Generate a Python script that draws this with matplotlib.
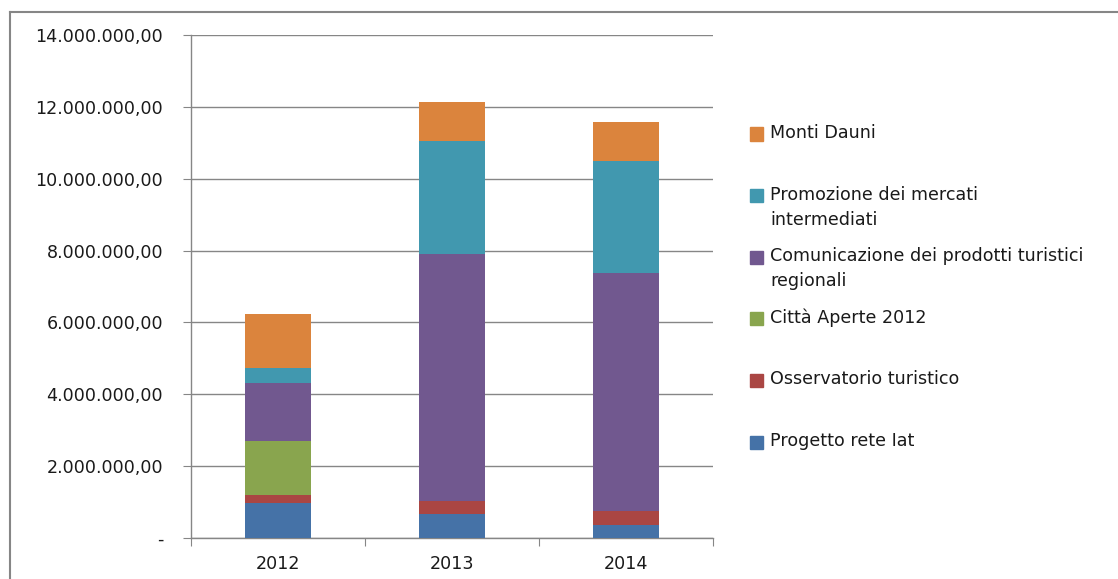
import numpy as np
import matplotlib.pyplot as plt
from matplotlib.ticker import FuncFormatter
from matplotlib.patches import Rectangle
from matplotlib.lines import Line2D

# data (euro)
years = ['2012', '2013', '2014']
series = ['Progetto rete Iat', 'Osservatorio turistico', 'Città Aperte 2012',
          'Comunicazione dei prodotti turistici\nregionali',
          'Promozione dei mercati\nintermediati', 'Monti Dauni']
progetto_iat = [980000, 660000, 350000]
osservatorio = [230000, 380000, 390000]
citta_aperte = [1490000, 0, 0]
comunicazione = [1610000, 6860000, 6640000]
promozione = [420000, 3140000, 3110000]
monti_dauni = [1500000, 1090000, 1090000]
colors = ['#4572A7', '#AA4643', '#89A54E', '#71588F', '#4198AF', '#DB843D']

values = [progetto_iat, osservatorio, citta_aperte, comunicazione, promozione, monti_dauni]

plt.rcParams['font.family'] = 'DejaVu Sans'
W, H = 1118, 579
fs = 12.6
fig = plt.figure(figsize=(W / 100, H / 100), dpi=100)
ax = fig.add_axes([191 / W, (H - 538) / H, (713 - 191) / W, (538 - 35) / H])

x = np.arange(len(years))
bottom = np.zeros(len(years))
for vals, col, name in zip(values, colors, series):
    ax.bar(x, vals, width=0.385, bottom=bottom, color=col, label=name, zorder=3)
    bottom += np.array(vals)

ax.set_ylim(0, 14000000)
ax.set_xlim(-0.5, 2.5)
ax.set_yticks(np.arange(0, 14000001, 2000000))


def it_fmt(v, pos):
    if v == 0:
        return '-'
    s = f'{v:,.2f}'
    return s.replace(',', 'X').replace('.', ',').replace('X', '.')


ax.yaxis.set_major_formatter(FuncFormatter(it_fmt))
ax.grid(axis='y', color='#868686', linewidth=1.0, zorder=0)
ax.tick_params(axis='y', length=6, color='#868686', pad=14, labelsize=fs, labelcolor='#1a1a1a')

ax.set_xticks([-0.5, 0.5, 1.5, 2.5])
ax.set_xticklabels([])
ax.set_xticks(x, minor=True)
ax.set_xticklabels(years, minor=True)
ax.tick_params(axis='x', which='major', length=6, color='#868686')
ax.tick_params(axis='x', which='minor', length=0, pad=12, labelsize=fs, labelcolor='#1a1a1a')

for s in ['top', 'right']:
    ax.spines[s].set_visible(False)
for s in ['left', 'bottom']:
    ax.spines[s].set_color('#868686')
    ax.spines[s].set_linewidth(1.0)

# legend, drawn top to bottom in reverse stacking order
y0 = 134
step = 61.6
for i, (name, col) in enumerate(zip(series[::-1], colors[::-1])):
    yc = y0 + i * step
    fig.patches.append(Rectangle((750 / W, 1 - (yc + 6.5) / H), 13 / W, 13 / H,
                                 transform=fig.transFigure, color=col))
    fig.text(770 / W, 1 - (yc - 10) / H, name, fontsize=fs, color='#1a1a1a',
             va='top', ha='left', linespacing=1.5)

# outer chart frame
fig.lines.append(Line2D([10 / W, 1], [1 - 12 / H, 1 - 12 / H], transform=fig.transFigure,
                        color='#868686', linewidth=1.5))
fig.lines.append(Line2D([10 / W, 10 / W], [0, 1 - 12 / H], transform=fig.transFigure,
                        color='#868686', linewidth=1.5))

fig.savefig('out.png', dpi=100)
